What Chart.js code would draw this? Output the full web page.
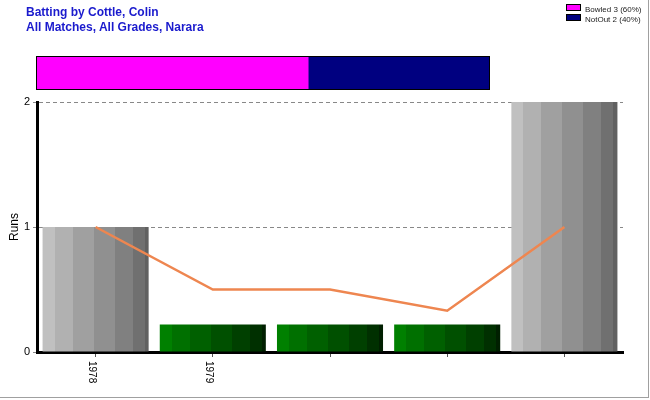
<!DOCTYPE html>
<html lang="en">
<head>
    <meta charset="UTF-8">
    <title>Batting by Cottle, Colin</title>
    <script src="https://cdn.jsdelivr.net/npm/chart.js"></script>
    <style>
      body { margin: 0; background: #fff; font-family: Arial, "Liberation Sans", sans-serif; }
      .frame { position: relative; width: 648px; height: 397px; border-right: 1px solid #a0a0a0; border-bottom: 1px solid #a0a0a0; overflow: hidden; }
      .title { position: absolute; left: 26px; color: #1a1acd; font-weight: bold; font-size: 12px; white-space: nowrap; }
      #mainChart { position: absolute; left: 0; top: 0; }
      .dismissBox { position: absolute; left: 36px; top: 56px; width: 452px; height: 32px; border: 1px solid #000; }
      #dismissChart { display: block; }
      .legend { position: absolute; left: 566px; top: 4px; font-size: 8px; color: #222; }
      .legend div { height: 10px; line-height: 10px; white-space: nowrap; }
      .legend span { display: inline-block; width: 13px; height: 5px; border: 1px solid #000; margin-right: 4px; vertical-align: 1px; }
    </style>
</head>
<body>
  <div class="frame">
    <canvas id="mainChart" width="650" height="400"></canvas>
    <div class="title" style="top: 5px;">Batting by Cottle, Colin</div>
    <div class="title" style="top: 20px;">All Matches, All Grades, Narara</div>
    <div class="dismissBox"><canvas id="dismissChart" width="452" height="32"></canvas></div>
    <div class="legend" id="legend"></div>
  </div>

  <script>
    // innings labels (only first two seasons are labelled)
    const seasons = ['1978', '1979', '', '', ''];
    // runs per innings
    const runs = [1, 0, 0, 0, 2];
    // ducks are shown as a short green bar
    const duckHeight = 0.22;
    // running average after each innings
    const average = [1, 0.5, 0.5, 0.33, 1];

    // how he got out
    const dismissalLabels = ['Bowled', 'NotOut'];
    const dismissalCounts = [3, 2];

    const grayBands = ['#c0c0c0', '#b1b1b1', '#a0a0a0', '#909090', '#808080', '#707070', '#616161'];
    const greenBands = ['#008000', '#007000', '#006000', '#005000', '#004000', '#003000', '#001f00'];
    const bandWidths = [12, 18, 21, 21, 18, 12, 4];
    const barPct = 0.905;

    function stripes(ctx, x0, x1, colors) {
      const g = ctx.createLinearGradient(x0, 0, x1, 0);
      const total = bandWidths.reduce((a, b) => a + b, 0);
      let pos = 0;
      colors.forEach((c, i) => {
        g.addColorStop(pos / total, c);
        pos += bandWidths[i];
        g.addColorStop(Math.min(pos / total, 1), c);
      });
      return g;
    }

    // draws the season labels turned clockwise, like the original
    const seasonLabels = {
      id: 'seasonLabels',
      afterDraw(chart) {
        const ctx = chart.ctx;
        const xs = chart.scales.x;
        ctx.save();
        ctx.fillStyle = '#000';
        ctx.font = '10px Arial, "Liberation Sans"';
        ctx.textBaseline = 'middle';
        ctx.textAlign = 'left';
        seasons.forEach((s, i) => {
          if (!s) return;
          ctx.save();
          ctx.translate(xs.getPixelForValue(i) - 4, 361);
          ctx.rotate(Math.PI / 2);
          ctx.fillText(s, 0, 0);
          ctx.restore();
        });
        ctx.restore();
      }
    };

    new Chart(document.getElementById('mainChart'), {
      data: {
        labels: seasons,
        datasets: [{
          type: 'line',
          label: 'Average',
          data: average,
          borderColor: '#ee8650',
          borderWidth: 2.5,
          pointRadius: 0,
          tension: 0,
          order: 0
        }, {
          type: 'bar',
          label: 'Runs',
          data: runs.map(r => r === 0 ? duckHeight : r),
          backgroundColor: (c) => {
            const xs = c.chart.scales.x;
            const i = c.dataIndex;
            const fallback = runs[i] === 0 ? greenBands[2] : grayBands[3];
            if (!xs || i === undefined || !c.chart.chartArea) return fallback;
            const w = xs.width / seasons.length * barPct;
            const cx = xs.getPixelForValue(i);
            if (!isFinite(cx) || !isFinite(w) || w <= 0) return fallback;
            return stripes(c.chart.ctx, cx - w / 2, cx + w / 2, runs[i] === 0 ? greenBands : grayBands);
          },
          borderWidth: 0,
          barPercentage: barPct,
          categoryPercentage: 1,
          order: 1
        }]
      },
      options: {
        responsive: false,
        animation: false,
        layout: { padding: { left: 0, top: 102, right: 27, bottom: 0 } },
        plugins: { legend: { display: false }, tooltip: { enabled: false } },
        scales: {
          x: {
            offset: true,
            grid: { offset: false, drawOnChartArea: false, drawTicks: true, tickLength: 5, color: '#555' },
            border: { color: '#000', width: 3 },
            ticks: { display: false },
            afterFit: (s) => { s.height = 48; }
          },
          y: {
            min: 0,
            max: 2,
            ticks: { stepSize: 1, color: '#000', font: { size: 11, family: 'Arial' }, padding: 3 },
            grid: { color: '#888', tickLength: 4, tickColor: '#888' },
            border: { color: '#000', width: 3, dash: [4, 3] },
            title: { display: true, text: 'Runs', color: '#000', font: { size: 12, family: 'Arial' }, padding: { top: 7, bottom: 0 } },
            afterFit: (s) => { s.width = 37; }
          }
        }
      },
      plugins: [seasonLabels]
    });

    const dismissColors = ['#ff00ff', '#000080'];
    const totalOut = dismissalCounts.reduce((a, b) => a + b, 0);

    new Chart(document.getElementById('dismissChart'), {
      type: 'bar',
      data: {
        labels: ['Dismissals'],
        datasets: dismissalLabels.map((l, i) => ({
          label: l,
          data: [dismissalCounts[i]],
          backgroundColor: dismissColors[i],
          borderWidth: 0,
          barPercentage: 1,
          categoryPercentage: 1
        }))
      },
      options: {
        indexAxis: 'y',
        responsive: false,
        animation: false,
        layout: { padding: 0 },
        plugins: { legend: { display: false }, tooltip: { enabled: false } },
        scales: {
          x: { stacked: true, min: 0, max: totalOut, display: false },
          y: { stacked: true, display: false }
        }
      }
    });

    // legend in the top right corner
    const legend = document.getElementById('legend');
    dismissalLabels.forEach((l, i) => {
      const row = document.createElement('div');
      const box = document.createElement('span');
      box.style.background = dismissColors[i];
      row.appendChild(box);
      const pct = Math.round(dismissalCounts[i] / totalOut * 100);
      row.appendChild(document.createTextNode(l + ' ' + dismissalCounts[i] + ' (' + pct + '%)'));
      legend.appendChild(row);
    });
  </script>
</body>
</html>
